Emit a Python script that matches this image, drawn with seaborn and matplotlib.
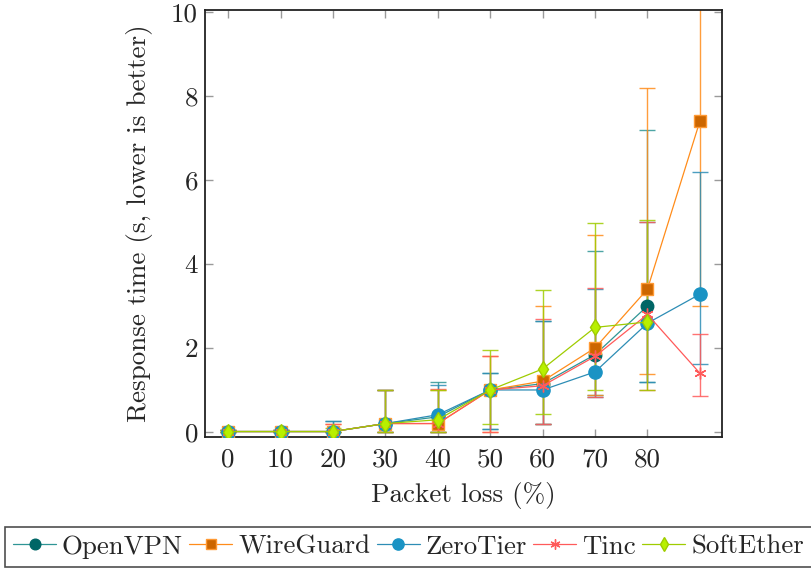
import numpy as np
import pandas as pd
import matplotlib
matplotlib.use("Agg")
import matplotlib.pyplot as plt
import seaborn as sns

# Packet loss levels (%)
loss = [0, 10, 20, 30, 40, 50, 60, 70, 80, 90]
tick_loss = [0, 10, 20, 30, 40, 50, 60, 70, 80]

# Mean response time (s) and error-bar bounds per VPN
openvpn_mean = [0.01, 0.01, 0.01, 0.20, 0.36, 1.00, 1.15, 1.84, 3.00]
openvpn_hi = [0.05, 0.05, 0.26, 1.00, 1.18, 1.41, 2.65, 4.30, 7.20]
openvpn_lo = [0.00, 0.00, 0.00, 0.00, 0.00, 0.06, 0.20, 0.87, 1.18]

wireguard_mean = [0.01, 0.01, 0.01, 0.20, 0.20, 1.00, 1.21, 2.00, 3.40, 7.40]
wireguard_hi = [0.05, 0.05, 0.20, 1.00, 1.00, 1.82, 2.99, 4.70, 8.20, 11.80]
wireguard_lo = [0.00, 0.00, 0.00, 0.00, 0.00, 0.00, 0.20, 0.87, 1.38, 3.00]

zerotier_mean = [0.01, 0.01, 0.01, 0.20, 0.41, 1.00, 1.00, 1.43, 2.59, 3.28]
zerotier_hi = [0.05, 0.05, 0.26, 1.00, 1.13, 1.41, 2.65, 3.40, 5.00, 6.20]
zerotier_lo = [0.00, 0.00, 0.00, 0.00, 0.00, 0.06, 0.20, 0.83, 1.18, 1.62]

tinc_mean = [0.01, 0.01, 0.01, 0.20, 0.20, 1.00, 1.10, 1.80, 2.80, 1.40]
tinc_hi = [0.05, 0.05, 0.20, 1.00, 1.03, 1.82, 2.69, 3.43, 5.00, 2.33]
tinc_lo = [0.00, 0.00, 0.00, 0.00, 0.00, 0.00, 0.20, 0.83, 1.00, 0.85]

softether_mean = [0.01, 0.01, 0.01, 0.20, 0.29, 1.00, 1.50, 2.49, 2.62]
softether_hi = [0.05, 0.05, 0.10, 1.00, 1.00, 1.95, 3.37, 4.98, 5.05]
softether_lo = [0.00, 0.00, 0.00, 0.00, 0.00, 0.20, 0.42, 1.00, 1.00]

series = [
    # name, mean, hi, lo, line colour, marker, marker face, marker edge, size
    ("OpenVPN", openvpn_mean, openvpn_hi, openvpn_lo, "#2f9595", "o", "#006666", "#006666", 9),
    ("WireGuard", wireguard_mean, wireguard_hi, wireguard_lo, "#ff8c1a", "s", "#cc6600", "#ff9933", 9),
    ("ZeroTier", zerotier_mean, zerotier_hi, zerotier_lo, "#2d8db5", "o", "#1a93c4", "#1a93c4", 9.5),
    ("Tinc", tinc_mean, tinc_hi, tinc_lo, "#ff5a5a", (6, 2, 0), "#ff5a5a", "#ff5a5a", 8.5),
    ("SoftEther", softether_mean, softether_hi, softether_lo, "#9fcc00", "d", "#b8f000", "#9fcc00", 8.5),
]

FS = 19.5

sns.set_theme(style="ticks")
plt.rcParams["font.family"] = "serif"
plt.rcParams["font.serif"] = ["cmr10", "DejaVu Serif"]
plt.rcParams["mathtext.fontset"] = "cm"
plt.rcParams["axes.formatter.use_mathtext"] = True

fig = plt.figure(figsize=(8.12, 5.69), dpi=100)
ax = fig.add_axes([0.2525, 0.232, 0.6365, 0.7505])

for name, mean, hi, lo, lc, mk, mfc, mec, ms in series:
    n = len(mean)
    xs = np.array(loss[:n])
    m = np.array(mean)
    err = [m - np.array(lo), np.array(hi) - m]
    ax.errorbar(xs, m, yerr=err, fmt="none", ecolor=lc, elinewidth=1.0,
                capsize=6, capthick=1.0, alpha=0.85, zorder=2)

for name, mean, hi, lo, lc, mk, mfc, mec, ms in series:
    n = len(mean)
    df = pd.DataFrame({"loss": loss[:n], "time": mean})
    sns.lineplot(data=df, x="loss", y="time", ax=ax, color=lc, lw=0.9,
                 marker=mk, markersize=ms, markerfacecolor=mfc,
                 markeredgecolor=mec, markeredgewidth=1.0,
                 label=name, zorder=3)

ax.set_xlim(-4.4, 94.2)
ax.set_ylim(-0.12, 10.05)
ax.set_xticks(tick_loss)
ax.set_xticklabels([str(v) for v in tick_loss])
ax.set_yticks([0, 2, 4, 6, 8, 10])
ax.set_yticklabels(["0", "2", "4", "6", "8", "10"])
ax.tick_params(direction="in", top=True, right=True, length=6, width=1.0,
               color="#9a9a9a", labelsize=FS)
ax.tick_params(axis="x", pad=8)
ax.tick_params(axis="y", pad=5)
for sp in ax.spines.values():
    sp.set_color("#222222")
    sp.set_linewidth(1.3)

ax.set_xlabel("Packet loss (%)", fontsize=FS, labelpad=7)
ax.set_ylabel("Response time (s, lower is better)", fontsize=FS, labelpad=13)

ax.get_legend().remove()
handles, labels = ax.get_legend_handles_labels()
leg = fig.legend(handles, labels, loc="center", bbox_to_anchor=(0.503, 0.0387),
                 ncol=5, fontsize=19.3, frameon=True, fancybox=False,
                 handlelength=1.6, handletextpad=0.22, columnspacing=0.24,
                 borderpad=0.3, borderaxespad=0, markerscale=0.85)
leg.get_frame().set_edgecolor("#222222")
leg.get_frame().set_linewidth(1.2)

fig.savefig("out.png", dpi=100)
